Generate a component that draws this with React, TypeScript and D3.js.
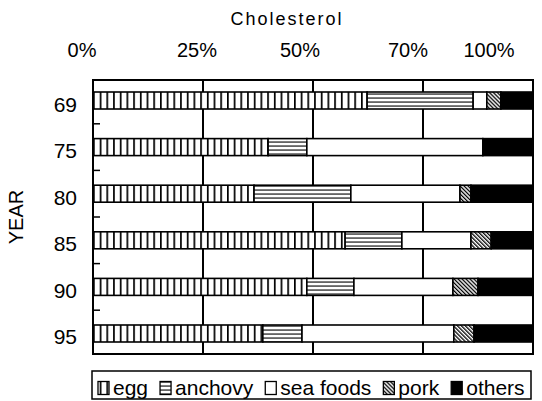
import React, { useEffect, useRef } from "react";
import * as d3 from "d3";

const years = ["69", "75", "80", "85", "90", "95"];
const egg = [62.3, 39.8, 36.6, 57.3, 48.6, 38.6];
const anchovy = [24.1, 8.8, 22.0, 12.9, 10.7, 8.9];
const seaFoods = [3.1, 40.0, 24.8, 15.7, 22.5, 34.5];
const pork = [3.2, 0, 2.5, 4.6, 5.7, 4.6];
const others = [7.3, 11.4, 14.1, 9.5, 12.5, 13.4];

const seriesKeys = ["egg", "anchovy", "sea foods", "pork", "others"];
const tickValues = [0, 25, 50, 75, 100];
const tickLabels = ["0%", "25%", "50%", "70%", "100%"];

const FONT = "'Liberation Sans', Arial, sans-serif";

export default function App() {
  const ref = useRef<SVGSVGElement>(null);

  useEffect(() => {
    const svg = d3.select(ref.current);
    svg.selectAll("*").remove();

    const width = 542;
    const height = 401;
    const margin = { top: 80, right: 9, bottom: 47, left: 93 };
    const plotBottom = height - margin.bottom;

    const rows = years.map((yr, i) => ({
      year: yr,
      egg: egg[i],
      anchovy: anchovy[i],
      "sea foods": seaFoods[i],
      pork: pork[i],
      others: others[i],
    }));

    const x = d3.scaleLinear().domain([0, 100]).range([margin.left, width - margin.right]);
    const y = d3.scalePoint().domain(years).range([margin.top, plotBottom]).padding(0.44);
    const barH = 17;

    // hatch patterns
    const defs = svg.append("defs");
    const pEgg = defs
      .append("pattern")
      .attr("id", "p-egg")
      .attr("patternUnits", "userSpaceOnUse")
      .attr("x", margin.left)
      .attr("width", 6.7)
      .attr("height", 10);
    pEgg.append("rect").attr("width", 6.7).attr("height", 10).attr("fill", "#fff");
    pEgg.append("rect").attr("x", 0).attr("width", 1.7).attr("height", 10).attr("fill", "#000");

    const pAnch = defs
      .append("pattern")
      .attr("id", "p-anch")
      .attr("patternUnits", "userSpaceOnUse")
      .attr("width", 10)
      .attr("height", 4);
    pAnch.append("rect").attr("width", 10).attr("height", 4).attr("fill", "#fff");
    pAnch.append("rect").attr("y", 1.5).attr("width", 10).attr("height", 1.1).attr("fill", "#000");

    const pPork = defs
      .append("pattern")
      .attr("id", "p-pork")
      .attr("patternUnits", "userSpaceOnUse")
      .attr("width", 2.8)
      .attr("height", 10)
      .attr("patternTransform", "rotate(-45)");
    pPork.append("rect").attr("width", 2.8).attr("height", 10).attr("fill", "#fff");
    pPork.append("rect").attr("width", 1.3).attr("height", 10).attr("fill", "#000");

    const fills: any = {
      egg: "url(#p-egg)",
      anchovy: "url(#p-anch)",
      "sea foods": "#fff",
      pork: "url(#p-pork)",
      others: "#000",
    };

    svg.append("rect").attr("width", width).attr("height", height).attr("fill", "#fff");

    // vertical grid
    svg
      .append("g")
      .selectAll("line")
      .data(tickValues.slice(1, -1))
      .join("line")
      .attr("x1", (d: number) => x(d))
      .attr("x2", (d: number) => x(d))
      .attr("y1", margin.top)
      .attr("y2", plotBottom)
      .attr("stroke", "#000")
      .attr("stroke-width", 2);

    // inner ticks between rows
    const step = y.step();
    svg
      .append("g")
      .selectAll("line")
      .data(years.slice(1))
      .join("line")
      .attr("x1", margin.left)
      .attr("x2", margin.left + 7)
      .attr("y1", (d: string) => (y(d) as number) - step / 2)
      .attr("y2", (d: string) => (y(d) as number) - step / 2)
      .attr("stroke", "#000")
      .attr("stroke-width", 1.5);

    // stacked bars
    const stacked = d3.stack<any>().keys(seriesKeys)(rows);
    svg
      .append("g")
      .selectAll("g")
      .data(stacked)
      .join("g")
      .attr("fill", (s: any) => fills[s.key])
      .selectAll("rect")
      .data((s: any) => s.filter((d: any) => d[1] - d[0] > 0))
      .join("rect")
      .attr("x", (d: any) => x(d[0]))
      .attr("width", (d: any) => x(d[1]) - x(d[0]))
      .attr("y", (d: any) => (y(d.data.year) as number) - barH / 2)
      .attr("height", barH)
      .attr("stroke", "#000")
      .attr("stroke-width", 1.6);

    // frame
    svg
      .append("rect")
      .attr("x", margin.left)
      .attr("y", margin.top)
      .attr("width", x(100) - x(0))
      .attr("height", plotBottom - margin.top)
      .attr("fill", "none")
      .attr("stroke", "#000")
      .attr("stroke-width", 2);

    // title
    svg
      .append("text")
      .attr("x", 287)
      .attr("y", 25)
      .attr("text-anchor", "middle")
      .attr("font-family", FONT)
      .attr("font-size", 18)
      .attr("letter-spacing", 2)
      .text("Cholesterol");

    // top tick labels
    const labelNudge = [-11, -6, -13, -15, -44];
    svg
      .append("g")
      .selectAll("text")
      .data(tickValues)
      .join("text")
      .attr("x", (d: number, i: number) => x(d) + labelNudge[i])
      .attr("y", 57)
      .attr("text-anchor", "middle")
      .attr("font-family", FONT)
      .attr("font-size", 20)
      .text((d: number, i: number) => tickLabels[i]);

    // year labels
    svg
      .append("g")
      .selectAll("text")
      .data(years)
      .join("text")
      .attr("x", 77)
      .attr("y", (d: string) => (y(d) as number) + 11)
      .attr("text-anchor", "end")
      .attr("font-family", FONT)
      .attr("font-size", 21)
      .text((d: string) => d);

    svg
      .append("text")
      .attr("transform", "translate(23,217) rotate(-90)")
      .attr("text-anchor", "middle")
      .attr("font-family", FONT)
      .attr("font-size", 20)
      .text("YEAR");

    // legend
    const lg = svg.append("g");
    lg.append("rect")
      .attr("x", 92)
      .attr("y", 371)
      .attr("width", 439)
      .attr("height", 28)
      .attr("fill", "#fff")
      .attr("stroke", "#000")
      .attr("stroke-width", 1.5);
    let cursor = 98;
    seriesKeys.forEach((k) => {
      lg.append("rect")
        .attr("x", cursor)
        .attr("y", 381.5)
        .attr("width", 11)
        .attr("height", 13)
        .attr("fill", fills[k])
        .attr("stroke", "#000")
        .attr("stroke-width", 1.3);
      const t = lg
        .append("text")
        .attr("x", cursor + 15)
        .attr("y", 395)
        .attr("font-family", FONT)
        .attr("font-size", 21)
        .text(k);
      const w = (t.node() as SVGTextElement).getComputedTextLength();
      cursor += 15 + w + 12;
    });
  }, []);

  return (
    <svg
      ref={ref}
      width={542}
      height={401}
      style={{ position: "absolute", left: 0, top: 0, display: "block" }}
    />
  );
}
